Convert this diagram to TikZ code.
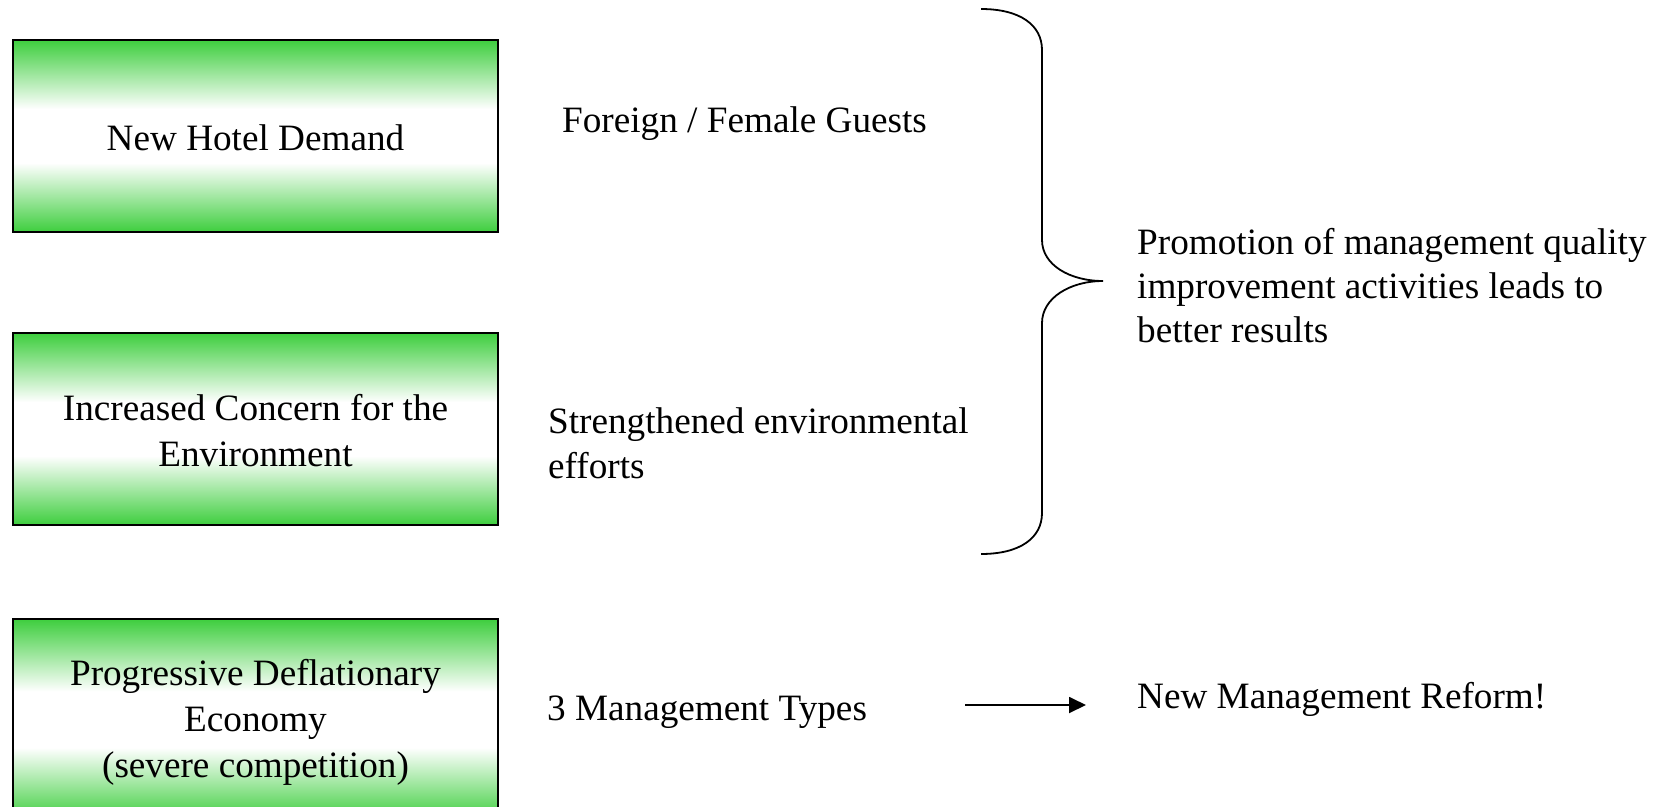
\documentclass[tikz,border=0pt]{standalone}
\usepackage{fontspec}
\setmainfont{Liberation Serif}
\usetikzlibrary{arrows.meta}
\definecolor{hg}{RGB}{62,206,62}
\pgfdeclareverticalshading{greenband}{100bp}{color(0bp)=(hg); color(25bp)=(hg); color(43bp)=(white); color(57bp)=(white); color(75bp)=(hg); color(100bp)=(hg)}
\tikzset{
  hbox/.style={shade, shading=greenband, draw=black, line width=1.8pt,
    minimum width=485pt, align=center, inner sep=0pt},
  plain/.style={anchor=base west, inner sep=0pt, align=left},
  conn/.style={line width=1.8pt},
}
\begin{document}
\begin{tikzpicture}[x=1pt, y=-1pt, font=\fontsize{37.2}{46}\selectfont]
\clip (0,0) rectangle (1657,806);
\fill[white] (0,0) rectangle (1657,806);
% boxes
\node[hbox, minimum height=192pt] (b1) at (255.5,136) {\rule{0pt}{29.5pt}New Hotel Demand};
\node[hbox, minimum height=192pt] (b2) at (255.5,429) {\rule{0pt}{29.5pt}Increased Concern for the\\Environment};
\node[hbox, minimum height=201pt] (b3) at (255.5,719.5) {\rule{0pt}{31.5pt}Progressive Deflationary\\Economy\\(severe competition)};
% middle texts (base anchor = baseline of last line)
\node[plain] (t1) at (562,132) {Foreign / Female Guests};
\node[plain, font=\fontsize{37.2}{44.5}\selectfont] (t2) at (548,478) {Strengthened environmental\\efforts};
\node[plain] (t3) at (547,720) {3 Management Types};
% right texts
\node[plain, font=\fontsize{37.2}{44}\selectfont] (r1) at (1137,342) {Promotion of management quality\\improvement activities leads to\\better results};
\node[plain] (r2) at (1137,708) {New Management Reform!};
% brace
\coordinate (bt) at (981,9);
\coordinate (bm) at (1103,281);
\coordinate (bb) at (981,554);
\draw[conn] (bt) .. controls (1020,9) and (1042,25) .. (1042,50)
  -- (1042,240) .. controls (1042,265) and (1070,281) .. (bm)
  .. controls (1070,281) and (1042,298) .. (1042,323)
  -- (1042,513) .. controls (1042,538) and (1020,554) .. (bb);
% arrow
\coordinate (a1) at (965,705);
\coordinate (a2) at (1086,705);
\draw[conn, -{Triangle[length=17pt,width=16pt]}] (a1) -- (a2);
\end{tikzpicture}
\end{document}
